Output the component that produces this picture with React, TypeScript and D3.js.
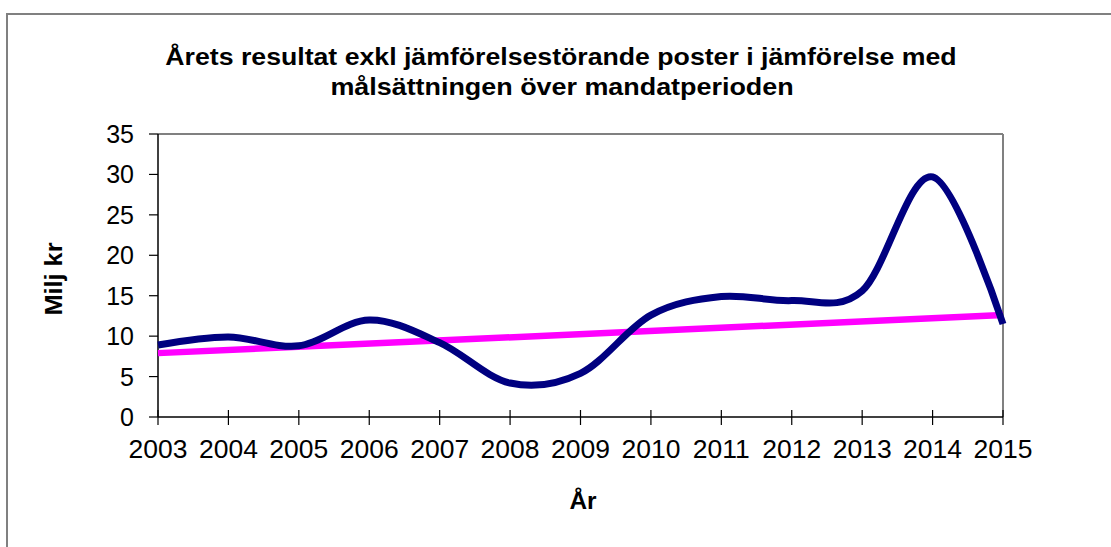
import * as d3 from 'd3'

const years = [2003, 2004, 2005, 2006, 2007, 2008, 2009, 2010, 2011, 2012, 2013, 2014, 2015]
const result = [8.9, 9.9, 8.8, 12.0, 9.2, 4.2, 5.4, 12.6, 14.9, 14.4, 15.6, 29.7, 11.5]
const targetYears = [2003, 2015]
const target = [7.9, 12.6]
const yTicks = [0, 5, 10, 15, 20, 25, 30, 35]

const App = () => {
  const width = 1111
  const height = 547
  const left = 158
  const right = 1003
  const top = 134
  const bottom = 417

  const x = d3.scaleLinear().domain([2003, 2015]).range([left, right])
  const y = d3.scaleLinear().domain([0, 35]).range([bottom, top])

  // Excel-style smoothed line
  const smooth = d3.line<number>()
    .x((_, i) => x(years[i]))
    .y(d => y(d))
    .curve(d3.curveCardinal.tension(0))

  const straight = d3.line<number>()
    .x((_, i) => x(targetYears[i]))
    .y(d => y(d))

  const font = 'Liberation Sans, Arial, sans-serif'

  return (
    <svg width={width} height={height} style={{ position: 'absolute', left: 0, top: 0, background: '#fff' }}>
      <rect x={7} y={14} width={width + 10} height={height + 10} fill="#fff" stroke="#808080" strokeWidth={2} />
      <text transform="translate(561,65) scale(1.16,1)" textAnchor="middle" fontFamily={font} fontWeight="bold" fontSize={23}>
        Årets resultat exkl jämförelsestörande poster i jämförelse med
      </text>
      <text transform="translate(562,95) scale(1.17,1)" textAnchor="middle" fontFamily={font} fontWeight="bold" fontSize={23}>
        målsättningen över mandatperioden
      </text>

      {/* plot frame: top and right gray */}
      <line x1={left} x2={right} y1={top} y2={top} stroke="#808080" strokeWidth={2} />
      <line x1={right} x2={right} y1={top} y2={bottom} stroke="#808080" strokeWidth={2} />

      {/* y axis */}
      <line x1={left} x2={left} y1={top} y2={bottom} stroke="#000" strokeWidth={1.5} />
      {yTicks.map(t => (
        <g key={t}>
          <line x1={left - 9} x2={left} y1={y(t)} y2={y(t)} stroke="#000" strokeWidth={1.2} />
          <text x={134} y={y(t)} dy="0.36em" textAnchor="end" fontFamily={font} fontSize={25}>{t}</text>
        </g>
      ))}

      {/* x axis */}
      <line x1={left} x2={right} y1={bottom} y2={bottom} stroke="#000" strokeWidth={1.5} />
      {years.map(yr => (
        <g key={yr}>
          <line x1={x(yr)} x2={x(yr)} y1={bottom - 7} y2={bottom + 8} stroke="#000" strokeWidth={1.2} />
          <text transform={`translate(${x(yr)},458) scale(1.06,1)`} textAnchor="middle" fontFamily={font} fontSize={25}>{yr}</text>
        </g>
      ))}

      <path d={straight(target) ?? ''} fill="none" stroke="#FF00FF" strokeWidth={6.5} />
      <path d={smooth(result) ?? ''} fill="none" stroke="#000080" strokeWidth={7} strokeLinejoin="round" />

      <text transform="translate(583,509) scale(1.06,1)" textAnchor="middle" fontFamily={font} fontWeight="bold" fontSize={23}>År</text>
      <text transform="translate(62,279) rotate(-90) scale(1.1,1)" textAnchor="middle" fontFamily={font} fontWeight="bold" fontSize={23}>Milj kr</text>
    </svg>
  )
}

export default App
